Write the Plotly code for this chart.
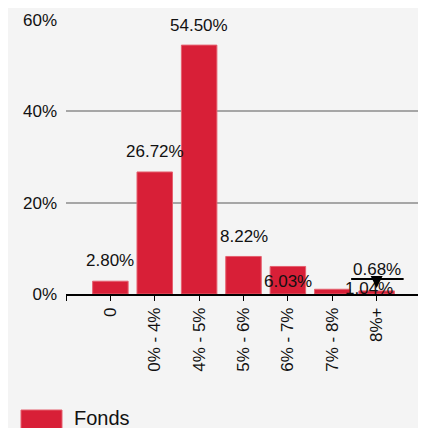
import plotly.graph_objects as go

categories = ["0", "0% - 4%", "4% - 5%", "5% - 6%", "6% - 7%", "7% - 8%", "8%+"]
values = [2.80, 26.72, 54.50, 8.22, 6.03, 1.04, 0.68]
labels = ["2.80%", "26.72%", "54.50%", "8.22%", "6.03%", "1.04%", "0.68%"]
y_ticks = [0, 20, 40, 60]
y_tick_text = ["0%", "20%", "40%", "60%"]
legend_name = "Fonds"

# label pixel offsets (collision-avoided placements as in the reference)
label_xshift = [0, 0, 0, 0, 0, 37, 0]
label_yshift = [21, 20, 20, 20, -15, 1, 21]

RED = "#d81f37"
EDGE = "#e5606f"
BG = "#f4f4f4"
FONT = "Arial, Liberation Sans, sans-serif"
TXT = "#111111"

# figure geometry (page has an 8px body margin)
W, H = 418, 420
ML, MR, MT, MB = 58, 5, 12, 134
PW, PH = W - ML - MR, H - MT - MB


def px(xp):
    return (xp - ML) / PW


def py(yp):
    return (H - MB - yp) / PH


idx = list(range(len(categories)))

fig = go.Figure()
fig.add_trace(go.Bar(
    x=idx, y=values, width=0.8, name=legend_name,
    marker=dict(color=RED, line=dict(color=EDGE, width=1)),
    showlegend=False, hoverinfo="skip",
))

annotations = []
for i, (v, t) in enumerate(zip(values, labels)):
    annotations.append(dict(
        x=i, y=v, text=t, showarrow=False, xref="x", yref="y",
        xshift=label_xshift[i], yshift=label_yshift[i],
        font=dict(size=17, color=TXT, family=FONT),
    ))

last = len(values) - 1
# callout underline + pointer for the last label
annotations.append(dict(
    x=last, y=values[last], xref="x", yref="y", text="",
    showarrow=True, arrowhead=0, arrowwidth=2, arrowcolor="#000000",
    ax=-54, ay=0, xshift=27, yshift=12, standoff=0, startstandoff=0,
))
annotations.append(dict(
    x=last, y=values[last], xref="x", yref="y", text="",
    showarrow=True, arrowhead=2, arrowsize=1.6, arrowwidth=1.5, arrowcolor="#000000",
    ax=0, ay=-9, yshift=3, standoff=0, startstandoff=0,
))
# legend text
annotations.append(dict(
    x=px(64), y=py(410), xref="paper", yref="paper", text=legend_name,
    showarrow=False, xanchor="left", yanchor="middle",
    font=dict(size=20, color=TXT, family=FONT),
))

shapes = [dict(
    type="rect", xref="paper", yref="paper",
    x0=px(13), x1=px(54), y0=py(424), y1=py(402),
    fillcolor=RED, line=dict(color=EDGE, width=1),
)]

fig.update_layout(
    width=W, height=H,
    margin=dict(l=ML, r=MR, t=MT, b=MB, autoexpand=False),
    paper_bgcolor=BG, plot_bgcolor=BG,
    font=dict(family=FONT, size=17, color=TXT),
    annotations=annotations, shapes=shapes,
    showlegend=False, bargap=0.2,
)
fig.update_xaxes(
    type="linear", range=[-1, 7],
    tickvals=[-1] + idx, ticktext=[""] + categories,
    tickangle=-90, ticks="outside", ticklen=5, tickcolor="#000000", tickwidth=1,
    showline=True, linecolor="#000000", linewidth=1.5,
    showgrid=False, zeroline=False, automargin=False,
    tickfont=dict(size=17, family=FONT, color=TXT),
)
fig.update_yaxes(
    range=[0, 60], tickvals=y_ticks, ticktext=y_tick_text,
    showgrid=True, gridcolor="#a6a6a6", gridwidth=1.5,
    zeroline=False, showline=False, ticks="", ticklabelstandoff=8,
    automargin=False,
    tickfont=dict(size=17, family=FONT, color=TXT),
)

fig.write_html("out.html")
